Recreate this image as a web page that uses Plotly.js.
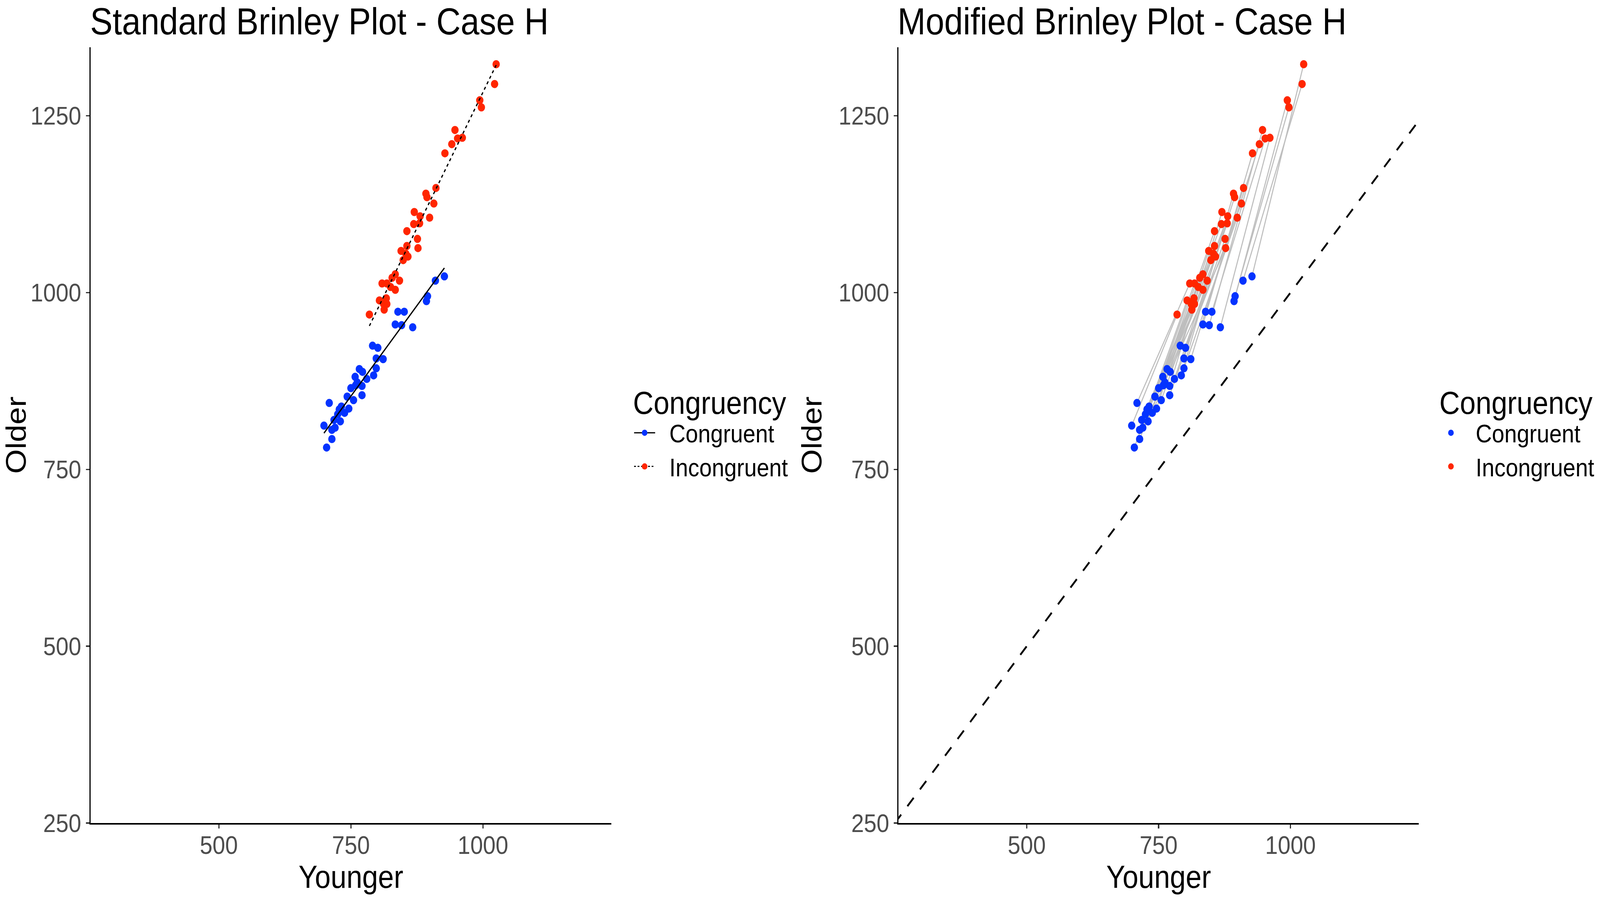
<!DOCTYPE html>
<html>
<head>
<meta charset="utf-8">
<script src="https://cdn.plot.ly/plotly-3.0.1.min.js"></script>
<style>
  html, body { margin: 0; padding: 0; background: #fff; overflow: hidden; }
  #chart { width: 4562px; height: 2300px; transform-origin: 0 0; }
</style>
</head>
<body>
<div id="chart"></div>
<script>
// one entry per subject, same index = same subject (sorted by younger RT)
const congYoung = [699, 704, 709, 714, 714, 718, 720, 725, 728, 730, 732, 738, 743, 746, 750, 755, 758, 759, 762, 766,
  771, 771, 772, 780, 791, 793, 798, 798, 801, 811, 834, 839, 846, 851, 867, 893, 895, 910, 927];
const congOld = [812, 781, 844, 806, 793, 820, 809, 828, 835, 818, 839, 830, 853, 836, 865, 848, 881, 869, 873, 892,
  868, 855, 888, 878, 925, 883, 907, 893, 922, 906, 955, 973, 954, 973, 951, 988, 995, 1017, 1023];
const incongYoung = [785, 804, 809, 812, 813, 817, 818, 818, 825, 828, 834, 834, 842, 845, 849, 854, 856, 856, 858, 869,
  870, 876, 877, 880, 881, 892, 894, 899, 907, 911, 928, 941, 947, 952, 961, 994, 997, 1022, 1025];
const incongOld = [969, 989, 1013, 984, 976, 992, 1013, 984, 1008, 1021, 1026, 1004, 1017, 1059, 1046, 1055, 1087, 1066, 1051, 1097,
  1114, 1076, 1063, 1098, 1108, 1140, 1135, 1106, 1126, 1148, 1197, 1210, 1230, 1218, 1219, 1272, 1262, 1295, 1323];

const xTicks = [500, 750, 1000];
const yTicks = [250, 500, 750, 1000, 1250];
const identityLine = [250, 1250];

const FONT = "Liberation Sans, Arial, sans-serif";
const BLUE = "#0433FF";
const RED = "#FF2600";
const W = 4562, H = 2300;
const GAP = "\u00A0\u00A0"; // space between legend key and label

// least squares line over the range of x
function fitLine(xs, ys) {
  const n = xs.length;
  const mx = xs.reduce((a, b) => a + b, 0) / n;
  const my = ys.reduce((a, b) => a + b, 0) / n;
  let sxy = 0, sxx = 0;
  for (let i = 0; i < n; i++) {
    sxy += (xs[i] - mx) * (ys[i] - my);
    sxx += (xs[i] - mx) * (xs[i] - mx);
  }
  const b = sxy / sxx;
  const a = my - b * mx;
  const x0 = Math.min(...xs), x1 = Math.max(...xs);
  return { x: [x0, x1], y: [a + b * x0, a + b * x1] };
}

const fitC = fitLine(congYoung, congOld);
const fitI = fitLine(incongYoung, incongOld);

// grey segments joining each subject's two conditions
const segX = [], segY = [];
congYoung.forEach((v, i) => {
  segX.push(v, incongYoung[i], null);
  segY.push(congOld[i], incongOld[i], null);
});

const traces = [
  // left panel
  { x: congYoung, y: congOld, mode: "markers", type: "scatter", xaxis: "x", yaxis: "y",
    marker: { color: BLUE, size: 21 }, showlegend: false, hoverinfo: "skip" },
  { x: incongYoung, y: incongOld, mode: "markers", type: "scatter", xaxis: "x", yaxis: "y",
    marker: { color: RED, size: 21 }, showlegend: false, hoverinfo: "skip" },
  { x: fitC.x, y: fitC.y, mode: "lines", type: "scatter", xaxis: "x", yaxis: "y",
    line: { color: "#000", width: 3.5 }, showlegend: false },
  { x: fitI.x, y: fitI.y, mode: "lines", type: "scatter", xaxis: "x", yaxis: "y",
    line: { color: "#000", width: 3.5, dash: "8px,8px" }, showlegend: false },
  // legend keys for the left panel (point + line)
  { x: [null], y: [null], mode: "lines+markers", type: "scatter", xaxis: "x", yaxis: "y",
    name: GAP + "Congruent", legend: "legend", marker: { color: BLUE, size: 16 }, line: { color: "#000", width: 3 } },
  { x: [null], y: [null], mode: "lines+markers", type: "scatter", xaxis: "x", yaxis: "y",
    name: GAP + "Incongruent", legend: "legend", marker: { color: RED, size: 16 }, line: { color: "#000", width: 3, dash: "5px,5px" } },

  // right panel
  { x: segX, y: segY, mode: "lines", type: "scatter", xaxis: "x2", yaxis: "y2",
    line: { color: "#BEBEBE", width: 3 }, showlegend: false, hoverinfo: "skip", connectgaps: false },
  { x: identityLine, y: identityLine, mode: "lines", type: "scatter", xaxis: "x2", yaxis: "y2",
    line: { color: "#000", width: 5, dash: "28px,28px" }, showlegend: false },
  { x: congYoung, y: congOld, mode: "markers", type: "scatter", xaxis: "x2", yaxis: "y2",
    name: GAP + "Congruent", legend: "legend2", marker: { color: BLUE, size: 21 } },
  { x: incongYoung, y: incongOld, mode: "markers", type: "scatter", xaxis: "x2", yaxis: "y2",
    name: GAP + "Incongruent", legend: "legend2", marker: { color: RED, size: 21 } }
];

const axisBase = {
  showline: true, linecolor: "#000", linewidth: 3.5,
  ticks: "outside", ticklen: 10, tickwidth: 3.5, tickcolor: "#333",
  tickfont: { family: FONT, size: 65, color: "#4D4D4D" },
  showgrid: false, zeroline: false, fixedrange: true, automargin: false
};

const yDomain = [1 - 2108 / H, 1 - 121 / H];
const xRange = [257, 1243];
const yRange = [250, 1347];

function xAxis(domain, anchor) {
  return Object.assign({}, axisBase, {
    domain: domain, anchor: anchor, range: xRange, tickvals: xTicks, ticklabelstandoff: -12,
    title: { text: "Younger", font: { family: FONT, size: 81, color: "#000" }, standoff: 2 }
  });
}
function yAxis(anchor) {
  return Object.assign({}, axisBase, {
    domain: yDomain, anchor: anchor, range: yRange, tickvals: yTicks,
    title: { text: "Older", font: { family: FONT, size: 81, color: "#000" }, standoff: 22 }
  });
}

const legendBase = {
  xanchor: "left", yanchor: "top", y: 1 - 955 / H,
  font: { family: FONT, size: 64, color: "#000" },
  itemwidth: 60, bgcolor: "rgba(0,0,0,0)", tracegroupgap: 0
};

const layout = {
  width: W, height: H,
  margin: { l: 0, r: 0, t: 0, b: 0 },
  paper_bgcolor: "#fff", plot_bgcolor: "#fff",
  font: { family: FONT, color: "#000" },
  xaxis: xAxis([258 / W, 1743 / W], "y"),
  yaxis: yAxis("x"),
  xaxis2: xAxis([2562 / W, 4045 / W], "y2"),
  yaxis2: yAxis("x2"),
  legend: Object.assign({}, legendBase, {
    x: 1803 / W,
    title: { text: "Congruency", font: { family: FONT, size: 81, color: "#000" } }
  }),
  legend2: Object.assign({}, legendBase, {
    x: 4102 / W,
    title: { text: "Congruency", font: { family: FONT, size: 81, color: "#000" } }
  }),
  annotations: [
    { text: "Standard Brinley Plot - Case H", xref: "paper", yref: "paper",
      x: 256 / W, y: 1, xanchor: "left", yanchor: "top", borderpad: 0, showarrow: false,
      font: { family: FONT, size: 96, color: "#000" } },
    { text: "Modified Brinley Plot - Case H", xref: "paper", yref: "paper",
      x: 2558 / W, y: 1, xanchor: "left", yanchor: "top", borderpad: 0, showarrow: false,
      font: { family: FONT, size: 96, color: "#000" } }
  ],
  showlegend: true
};

const chart = document.getElementById("chart");
Plotly.newPlot(chart, traces, layout, { staticPlot: true, displayModeBar: false }).then(() => {
  // the browser window may be narrower than the design size: fit the figure to it
  const sx = window.innerWidth / W, sy = window.innerHeight / H;
  chart.style.transform = "scale(" + sx + "," + sy + ")";
});
</script>
</body>
</html>
